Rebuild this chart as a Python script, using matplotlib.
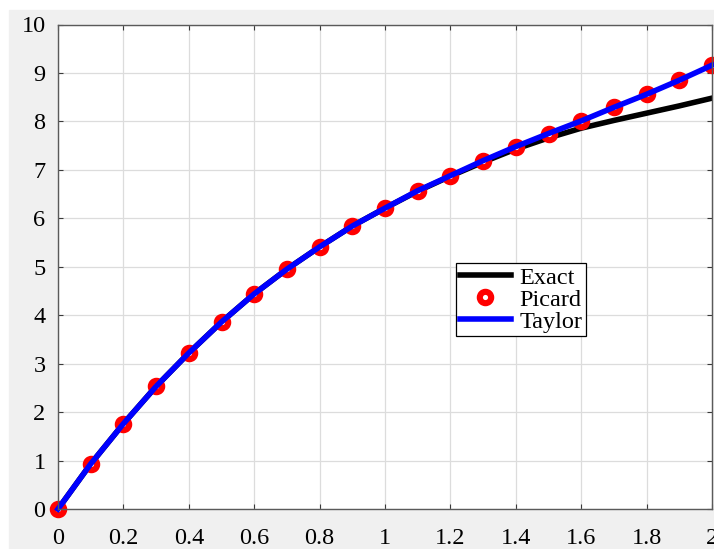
import matplotlib.pyplot as plt
from matplotlib.patches import Rectangle
from matplotlib.ticker import FuncFormatter

# valores
x = [0, 0.1, 0.2, 0.3, 0.4, 0.5, 0.6, 0.7, 0.8, 0.9, 1.0,
     1.1, 1.2, 1.3, 1.4, 1.5, 1.6, 1.7, 1.8, 1.9, 2.0]
exacta = [0, 0.93, 1.76, 2.53, 3.22, 3.86, 4.44, 4.95, 5.41, 5.84, 6.21,
          6.56, 6.87, 7.16, 7.43, 7.66, 7.86, 8.02, 8.17, 8.32, 8.48]
picard = [0, 0.93, 1.76, 2.53, 3.22, 3.86, 4.44, 4.95, 5.41, 5.84, 6.21,
          6.57, 6.88, 7.19, 7.48, 7.75, 8.01, 8.29, 8.56, 8.85, 9.16]
taylor = [0, 0.93, 1.76, 2.53, 3.22, 3.86, 4.44, 4.95, 5.41, 5.84, 6.21,
          6.57, 6.88, 7.19, 7.48, 7.75, 8.01, 8.29, 8.56, 8.85, 9.16]

plt.rcParams['font.family'] = ['Liberation Serif', 'DejaVu Serif']
plt.rcParams['font.size'] = 17.5

fig = plt.figure(figsize=(7.14, 5.49), dpi=100, facecolor='white')
fig.patches.append(Rectangle((9 / 714, 0), 1, (549 - 10) / 549,
                             transform=fig.transFigure, color='#f0f0f0', zorder=-10))
ax = fig.add_axes([58 / 714, 40 / 549, 654 / 714, 484.5 / 549])

ax.plot(x, exacta, color='black', lw=4, label='Exact')
ax.plot(x, picard, 'o', color='red', mfc='white', mec='red', ms=8.2, mew=4.4,
        ls='none', label='Picard', clip_on=False)
ax.plot(x, taylor, color='blue', lw=4, label='Taylor', clip_on=False)

ax.set_xlim(0, 2)
ax.set_ylim(0, 10)
ax.set_xticks([0, 0.2, 0.4, 0.6, 0.8, 1.0, 1.2, 1.4, 1.6, 1.8, 2.0])
ax.set_yticks(range(11))
ax.xaxis.set_major_formatter(FuncFormatter(lambda v, p: '%g' % v))
ax.grid(True, color='#dcdcdc', lw=0.9)
ax.tick_params(direction='in', length=3.6, width=0.8, color='#3a3a3a',
               top=True, right=True)
ax.tick_params(axis='x', pad=13.5)
ax.tick_params(axis='y', pad=9)
for s in ax.spines.values():
    s.set_color('#5a5a5a')
    s.set_linewidth(1.0)

leg = ax.legend(loc='upper left', bbox_to_anchor=(0.6086, 0.508), numpoints=1,
                fancybox=False, framealpha=1, edgecolor='black',
                borderpad=0.15, labelspacing=0.0, handlelength=2.1,
                handletextpad=0.35, borderaxespad=0)
leg.get_frame().set_linewidth(0.9)

fig.savefig('out.png', dpi=100, facecolor=fig.get_facecolor())
